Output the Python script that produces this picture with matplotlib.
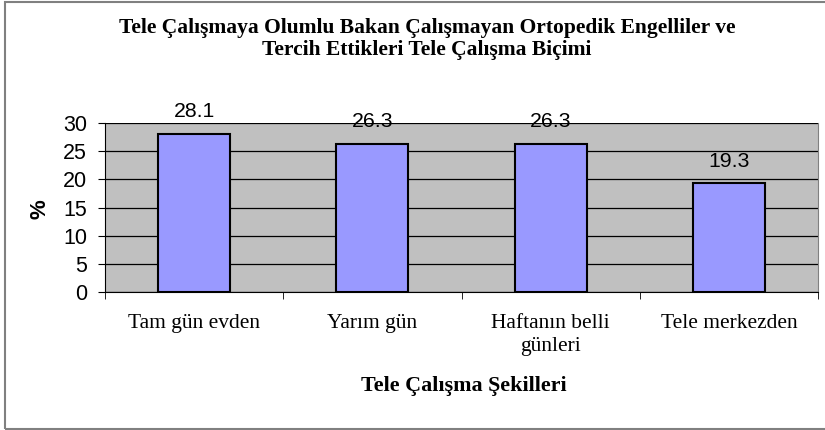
import matplotlib
matplotlib.use("Agg")
import matplotlib.pyplot as plt
from matplotlib.patches import Rectangle

categories = ["Tam gün evden", "Yarım gün", "Haftanın belli\ngünleri", "Tele merkezden"]
values = [28.1, 26.3, 26.3, 19.3]
yticks = [0, 5, 10, 15, 20, 25, 30]
title = "Tele Çalışmaya Olumlu Bakan Çalışmayan Ortopedik Engelliler ve\nTercih Ettikleri Tele Çalışma Biçimi"
xlabel = "Tele Çalışma Şekilleri"
ylabel = "%"

W, H = 825, 430
fig = plt.figure(figsize=(W/100, H/100), dpi=100)
fig.patch.set_facecolor("white")
fig.patches.append(Rectangle((4.5/W, 1/H), (W+5)/W, (428-1)/H, transform=fig.transFigure,
                             fill=False, edgecolor="#808080", linewidth=1.5))

L, R, T, B = 105, 818, 123, 292
ax = fig.add_axes([L/W, 1-B/H, (R-L)/W, (B-T)/H])
ax.set_facecolor("#C0C0C0")
x = list(range(len(categories)))
ax.bar(x, values, width=0.405, color="#9999FF", edgecolor="black", linewidth=1.5, zorder=3)
ax.set_xlim(-0.5, len(categories)-0.5)
ax.set_ylim(0, 30)
ax.set_yticks(yticks)
ax.yaxis.grid(True, color="black", linewidth=0.9, zorder=1)
ax.set_axisbelow(True)
ax.spines["top"].set_visible(False)
ax.spines["right"].set_color("#808080")
ax.spines["left"].set_color("black")
ax.spines["bottom"].set_color("black")
ax.tick_params(axis="y", direction="out", length=5, labelsize=15.5, pad=8)
for lab in ax.get_yticklabels():
    lab.set_family("Liberation Sans")
ax.set_xticks(x)
ax.set_xticklabels(categories, family="Liberation Serif", fontsize=15.5, linespacing=1.3)
ax.tick_params(axis="x", length=0, pad=16)
ax.set_xticks([i+0.5 for i in range(-1, len(categories))], minor=True)
ax.tick_params(axis="x", which="minor", direction="out", length=5)
for i, v in enumerate(values):
    ax.annotate(f"{v}", (i, v), xytext=(0, 12), textcoords="offset points",
                ha="center", va="baseline", fontsize=15.3, family="Liberation Sans")

fig.text(427/W, 1-39/H, title, ha="center", va="center", fontsize=15.5, fontweight="bold",
         family="Liberation Serif", linespacing=1.2)
fig.text(40/W, 1-209/H, ylabel, ha="center", va="center", rotation=90, fontsize=16,
         fontweight="bold", family="Liberation Sans")
fig.text(464/W, 1-386/H, xlabel, ha="center", va="center", fontsize=15.8, fontweight="bold",
         family="Liberation Serif")

fig.savefig("out.png", dpi=100)
